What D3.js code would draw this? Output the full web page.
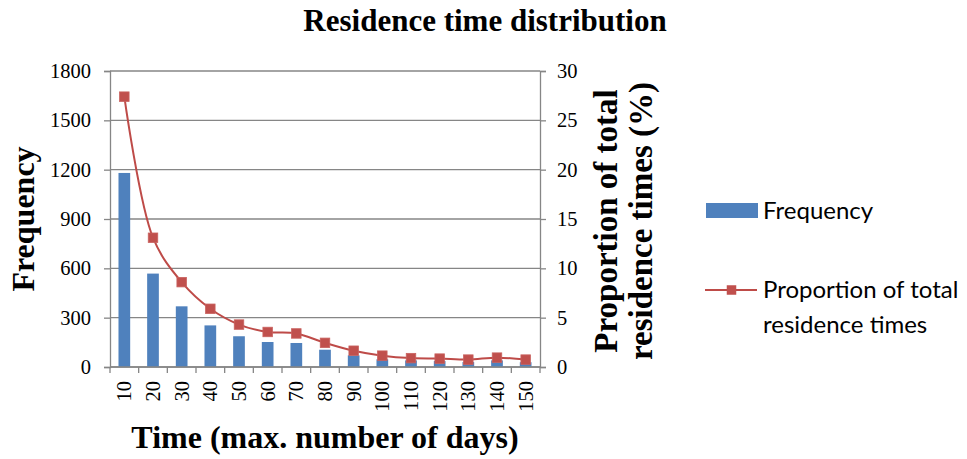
<!DOCTYPE html>
<html>
<head>
<meta charset="utf-8">
<script src="https://cdn.jsdelivr.net/npm/d3@7"></script>
<style>
  html, body { margin: 0; padding: 0; background: #fff; }
  svg { display: block; }
  .serif { font-family: "Liberation Serif", "Times New Roman", serif; }
  .legend { font-family: Lato, "Open Sans", sans-serif; }
</style>
</head>
<body>
<svg id="chart" width="967" height="459"></svg>
<script>
// Residence time bins (max. number of days)
const categories = ["10", "20", "30", "40", "50", "60", "70", "80", "90", "100", "110", "120", "130", "140", "150"];
// Number of residence times falling in each bin
const frequency = [1180, 568, 369, 253, 187, 152, 146, 105, 71, 47, 40, 36, 30, 40, 29];
// Share of all residence times (%)
const proportion = [27.4, 13.1, 8.6, 5.9, 4.3, 3.55, 3.4, 2.45, 1.65, 1.15, 0.9, 0.85, 0.75, 0.95, 0.75];
// Axis ticks
const freqTicks = [0, 300, 600, 900, 1200, 1500, 1800];
const pctTicks = [0, 5, 10, 15, 20, 25, 30];

const svg = d3.select("#chart");
const plot = { left: 110, right: 540, top: 71, bottom: 367 };
const gridColor = "#868686";
const barColor = "#4F81BD";
const lineColor = "#BE4B48";
const markerColor = "#C0504D";
const tickFont = 20.5;

const pad = 0.592;
const x = d3.scaleBand()
  .domain(categories)
  .range([plot.left, plot.right])
  .paddingInner(pad)
  .paddingOuter(pad / 2);
const yFreq = d3.scaleLinear().domain([0, 1800]).range([plot.bottom, plot.top]);
const yPct = d3.scaleLinear().domain([0, 30]).range([plot.bottom, plot.top]);

// Horizontal gridlines
svg.append("g")
  .selectAll("line")
  .data(freqTicks)
  .join("line")
  .attr("x1", plot.left).attr("x2", plot.right)
  .attr("y1", d => yFreq(d)).attr("y2", d => yFreq(d))
  .attr("stroke", gridColor).attr("stroke-width", 1.3);

// Left axis
const leftAxis = svg.append("g")
  .attr("transform", `translate(${plot.left},0)`)
  .call(d3.axisLeft(yFreq).tickValues(freqTicks).tickSize(6).tickPadding(13).tickFormat(d3.format("d")));
// Right axis
const rightAxis = svg.append("g")
  .attr("transform", `translate(${plot.right},0)`)
  .call(d3.axisRight(yPct).tickValues(pctTicks).tickSize(6).tickPadding(11).tickFormat(d3.format("d")));

[leftAxis, rightAxis].forEach(g => {
  g.select(".domain").attr("stroke", gridColor).attr("stroke-width", 1.3);
  g.selectAll(".tick line").attr("stroke", gridColor).attr("stroke-width", 1.3);
  g.selectAll(".tick text")
    .attr("class", "serif")
    .attr("font-size", tickFont)
    .attr("fill", "#000");
});

// Bars
svg.append("g")
  .selectAll("rect")
  .data(categories)
  .join("rect")
  .attr("x", d => x(d))
  .attr("width", x.bandwidth())
  .attr("y", (d, i) => yFreq(frequency[i]))
  .attr("height", (d, i) => yFreq(0) - yFreq(frequency[i]))
  .attr("fill", barColor);

// Bottom axis: tick marks at category boundaries, labels rotated
const xAxis = svg.append("g");
xAxis.append("line")
  .attr("x1", plot.left).attr("x2", plot.right)
  .attr("y1", plot.bottom).attr("y2", plot.bottom)
  .attr("stroke", gridColor).attr("stroke-width", 1.3);
const step = x.step();
const boundaries = categories.map(c => x(c) - step * pad / 2).concat([plot.right]);
xAxis.selectAll("line.bound")
  .data(boundaries)
  .join("line")
  .attr("class", "bound")
  .attr("x1", d => d).attr("x2", d => d)
  .attr("y1", plot.bottom).attr("y2", plot.bottom + 6)
  .attr("stroke", gridColor).attr("stroke-width", 1.3);
xAxis.selectAll("text")
  .data(categories)
  .join("text")
  .attr("class", "serif")
  .attr("font-size", tickFont)
  .attr("text-anchor", "end")
  .attr("dominant-baseline", "central")
  .attr("transform", d => `translate(${x(d) + x.bandwidth() / 2},${plot.bottom + 14}) rotate(-90)`)
  .text(d => d);

// Proportion line (smoothed) with square markers
const cx = d => x(d) + x.bandwidth() / 2;
const line = d3.line()
  .x(d => cx(d))
  .y((d, i) => yPct(proportion[i]))
  .curve(d3.curveCatmullRom.alpha(0.5));
svg.append("path")
  .datum(categories)
  .attr("d", line)
  .attr("fill", "none")
  .attr("stroke", lineColor)
  .attr("stroke-width", 2);
const ms = 9.5;
svg.append("g")
  .selectAll("rect")
  .data(categories)
  .join("rect")
  .attr("x", d => cx(d) - ms / 2)
  .attr("y", (d, i) => yPct(proportion[i]) - ms / 2)
  .attr("width", ms).attr("height", ms)
  .attr("fill", markerColor)
  .attr("stroke", "#C9625F").attr("stroke-width", 0.8);

// Titles
svg.append("text")
  .attr("class", "serif")
  .attr("x", 485).attr("y", 31)
  .attr("text-anchor", "middle")
  .attr("font-size", 31).attr("font-weight", "bold")
  .text("Residence time distribution");

svg.append("text")
  .attr("class", "serif")
  .attr("x", 325).attr("y", 448)
  .attr("text-anchor", "middle")
  .attr("font-size", 32).attr("font-weight", "bold")
  .text("Time (max. number of days)");

svg.append("text")
  .attr("class", "serif")
  .attr("transform", `translate(34,${(plot.top + plot.bottom) / 2}) rotate(-90)`)
  .attr("text-anchor", "middle")
  .attr("font-size", 32).attr("font-weight", "bold")
  .text("Frequency");

const rightTitle = svg.append("text")
  .attr("class", "serif")
  .attr("transform", `translate(617,${(plot.top + plot.bottom) / 2 + 2}) rotate(-90)`)
  .attr("text-anchor", "middle")
  .attr("font-size", 33).attr("font-weight", "bold");
rightTitle.append("tspan").attr("x", 0).attr("y", 0).text("Proportion of total");
rightTitle.append("tspan").attr("x", 0).attr("y", 35).text("residence times (%)");

// Legend
const legend = svg.append("g").attr("class", "legend");
legend.append("rect")
  .attr("x", 706).attr("y", 203).attr("width", 52).attr("height", 15)
  .attr("fill", barColor);
legend.append("text")
  .attr("x", 763).attr("y", 219)
  .attr("font-size", 24)
  .text("Frequency");
legend.append("line")
  .attr("x1", 705).attr("x2", 757).attr("y1", 290).attr("y2", 290)
  .attr("stroke", lineColor).attr("stroke-width", 2);
legend.append("rect")
  .attr("x", 731.5 - ms / 2).attr("y", 290 - ms / 2)
  .attr("width", ms).attr("height", ms)
  .attr("fill", markerColor);
const lt = legend.append("text")
  .attr("font-size", 24);
lt.append("tspan").attr("x", 763).attr("y", 298).text("Proportion of total");
lt.append("tspan").attr("x", 763).attr("y", 333).text("residence times");
</script>
</body>
</html>
